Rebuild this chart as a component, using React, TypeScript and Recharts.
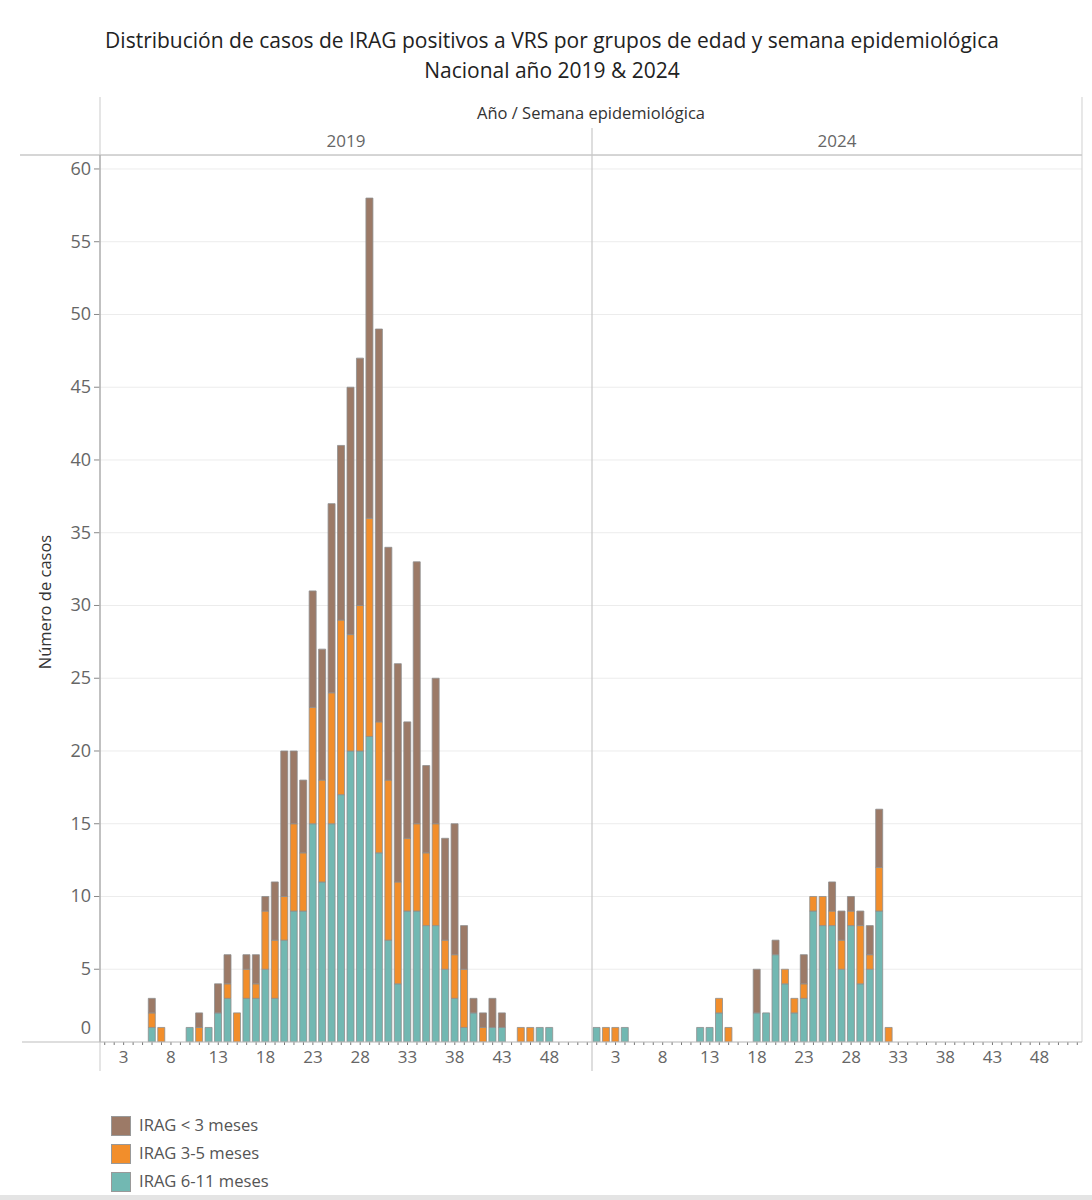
import React from 'react';
import { BarChart, Bar, XAxis, YAxis, CartesianGrid } from 'recharts';

const weeks = [1,2,3,4,5,6,7,8,9,10,11,12,13,14,15,16,17,18,19,20,21,22,23,24,25,26,27,28,29,30,31,32,33,34,35,36,37,38,39,40,41,42,43,44,45,46,47,48,49,50,51,52];

// 2019
const teal2019 = [0,0,0,0,0,1,0,0,0,1, 0,1,2,3,0,3,3,5,3,7, 9,9,15,11,15,17,20,20,21,13, 7,4,9,9,8,8,5,3,1,2, 0,1,1,0,0,0,1,1,0,0, 0,0];
const orange2019 = [0,0,0,0,0,1,1,0,0,0, 1,0,0,1,2,2,1,4,4,3, 6,4,8,7,9,12,8,10,15,9, 11,7,5,6,5,7,2,3,4,0, 1,0,0,0,1,1,0,0,0,0, 0,0];
const brown2019 = [0,0,0,0,0,1,0,0,0,0, 1,0,2,2,0,1,2,1,4,10, 5,5,8,9,13,12,17,17,22,27, 16,15,8,18,6,10,7,9,3,1, 1,2,1,0,0,0,0,0,0,0, 0,0];

// 2024
const teal2024 = [1,0,0,1,0,0,0,0,0,0, 0,1,1,2,0,0,0,2,2,6, 4,2,3,9,8,8,5,8,4,5, 9,0,0,0,0,0,0,0,0,0, 0,0,0,0,0,0,0,0,0,0, 0,0];
const orange2024 = [0,1,1,0,0,0,0,0,0,0, 0,0,0,1,1,0,0,0,0,0, 1,1,1,1,2,1,2,1,4,1, 3,1,0,0,0,0,0,0,0,0, 0,0,0,0,0,0,0,0,0,0, 0,0];
const brown2024 = [0,0,0,0,0,0,0,0,0,0, 0,0,0,0,0,0,0,3,0,1, 0,0,2,0,0,2,2,1,1,2, 4,0,0,0,0,0,0,0,0,0, 0,0,0,0,0,0,0,0,0,0, 0,0];

const yTicks = [0,5,10,15,20,25,30,35,40,45,50,55,60];
const xLabelWeeks = [3,8,13,18,23,28,33,38,43,48];
const seriesNames = ['IRAG < 3 meses', 'IRAG 3-5 meses', 'IRAG 6-11 meses'];

const BROWN = '#9c7a67';
const ORANGE = '#f28e2b';
const TEAL = '#72b8b2';
const BORDER = '#8e8e8e';
const FONT = '"Open Sans", "Noto Sans", sans-serif';

const data2019 = weeks.map((w, i) => ({ week: w, teal: teal2019[i], orange: orange2019[i], brown: brown2019[i] }));
const data2024 = weeks.map((w, i) => ({ week: w, teal: teal2024[i], orange: orange2024[i], brown: brown2024[i] }));

const Y_DOMAIN: [number, number] = [0, 60.96];

function XTick(props: any) {
  const { x, y, payload } = props;
  const v = payload.value;
  return (
    <g>
      <line x1={x} x2={x} y1={y} y2={y + 3} stroke="#777" strokeWidth={1} />
      {xLabelWeeks.includes(v) ? (
        <text x={x} y={y + 21} textAnchor="middle" fontSize={17} fill="#666" fontFamily={FONT}>{v}</text>
      ) : null}
    </g>
  );
}

function YTick(props: any) {
  const { x, y, payload } = props;
  const v = payload.value;
  if (v === 0) {
    return (
      <text x={x - 9} y={y - 8} textAnchor="end" fontSize={18} fill="#666" fontFamily={FONT}>{v}</text>
    );
  }
  return (
    <g>
      <line x1={x - 6} x2={x} y1={y} y2={y} stroke="#888" strokeWidth={1} />
      <text x={x - 9} y={y + 6} textAnchor="end" fontSize={18} fill="#666" fontFamily={FONT}>{v}</text>
    </g>
  );
}

function Panel({ data, width, showY }: { data: any[]; width: number; showY: boolean }) {
  return (
    <BarChart width={width} height={920} data={data} margin={{ top: 0, right: 0, bottom: 0, left: 0 }} barSize={7}>
      <CartesianGrid vertical={false} stroke="#ececec" />
      <XAxis
        dataKey="week"
        type="category"
        interval={0}
        height={33}
        tickSize={0}
        tickMargin={0}
        axisLine={false}
        tickLine={false}
        tick={<XTick />}
      />
      <YAxis
        width={showY ? 100 : 0}
        hide={!showY}
        domain={Y_DOMAIN}
        ticks={yTicks}
        allowDataOverflow
        tickSize={0}
        tickMargin={0}
        axisLine={false}
        tickLine={false}
        tick={<YTick />}
      />
      <Bar dataKey="teal" name={seriesNames[2]} stackId="a" fill={TEAL} stroke={BORDER} strokeWidth={0.8} isAnimationActive={false} />
      <Bar dataKey="orange" name={seriesNames[1]} stackId="a" fill={ORANGE} stroke={BORDER} strokeWidth={0.8} isAnimationActive={false} />
      <Bar dataKey="brown" name={seriesNames[0]} stackId="a" fill={BROWN} stroke={BORDER} strokeWidth={0.8} isAnimationActive={false} />
    </BarChart>
  );
}

export default function App() {
  const legendColors = [BROWN, ORANGE, TEAL];
  return (
    <div style={{ position: 'relative', width: 1092, height: 1200, background: '#fff', overflow: 'hidden' }}>
      <style>{'body{margin:0;}'}</style>
      <div style={{ position: 'absolute', left: 0, top: 155 }}>
        <Panel data={data2019} width={592} showY={true} />
      </div>
      <div style={{ position: 'absolute', left: 592, top: 155 }}>
        <Panel data={data2024} width={490} showY={false} />
      </div>
      <svg width={1092} height={1200} style={{ position: 'absolute', left: 0, top: 0, pointerEvents: 'none' }}>
        <text x={552} y={48} textAnchor="middle" fontSize={21} fontWeight={500} fill="#222" fontFamily={FONT}>
          Distribución de casos de IRAG positivos a VRS por grupos de edad y semana epidemiológica
        </text>
        <text x={552} y={78} textAnchor="middle" fontSize={21} fontWeight={500} fill="#222" fontFamily={FONT}>
          Nacional año 2019 &amp; 2024
        </text>
        <text x={591} y={119} textAnchor="middle" fontSize={16.5} fill="#333" fontFamily={FONT}>
          Año / Semana epidemiológica
        </text>
        <text x={346} y={147} textAnchor="middle" fontSize={17} fill="#666" fontFamily={FONT}>2019</text>
        <text x={837} y={147} textAnchor="middle" fontSize={17} fill="#666" fontFamily={FONT}>2024</text>

        <line x1={100} x2={100} y1={97} y2={1071} stroke="#d4d4d4" strokeWidth={1.2} />
        <line x1={592} x2={592} y1={128} y2={1071} stroke="#c8c8c8" strokeWidth={1.2} />
        <line x1={1082} x2={1082} y1={97} y2={1042} stroke="#d8d8d8" strokeWidth={1.2} />
        <line x1={20} x2={1082} y1={155} y2={155} stroke="#c8c8c8" strokeWidth={1.5} />
        <line x1={100} x2={100} y1={155} y2={1042} stroke="#a8a8a8" strokeWidth={1.2} />
        <line x1={22} x2={1082} y1={1042} y2={1042} stroke="#bdbdbd" strokeWidth={1.2} />

        <text
          x={0}
          y={0}
          transform="translate(51,602) rotate(-90)"
          textAnchor="middle"
          fontSize={16.5}
          fill="#333"
          fontFamily={FONT}
        >
          Número de casos
        </text>

        {seriesNames.map((name, i) => (
          <g key={name}>
            <rect x={111.5} y={1116.5 + i * 28} width={19} height={19} fill={legendColors[i]} stroke="#999" strokeWidth={1} />
            <text x={139} y={1131 + i * 28} fontSize={16.6} fill="#555" fontFamily={FONT}>{name}</text>
          </g>
        ))}
      </svg>
      <div style={{ position: 'absolute', left: 0, top: 1195, width: 1092, height: 5, background: '#e4e4e4' }} />
    </div>
  );
}
